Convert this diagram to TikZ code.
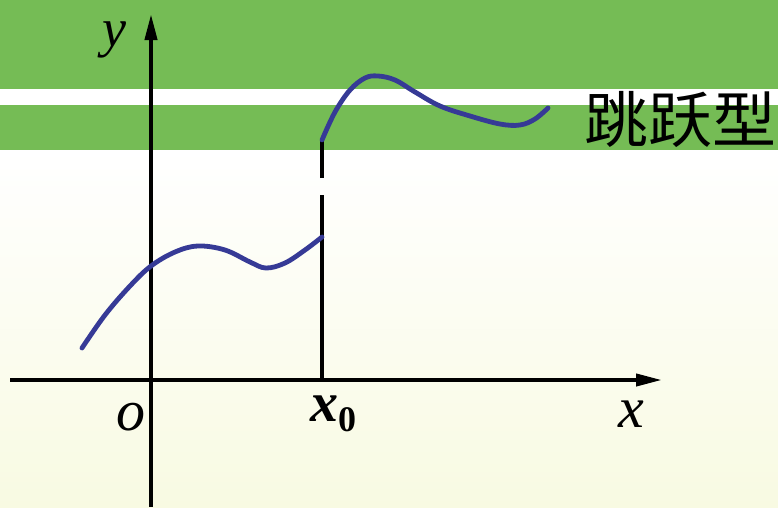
\documentclass[tikz,border=0pt]{standalone}
\usepackage{fontspec}
\setmainfont{Liberation Serif}
\newfontfamily\cjk{Noto Sans CJK SC}
\usetikzlibrary{arrows.meta}
\definecolor{bandgreen}{RGB}{117,188,85}
\definecolor{curveblue}{RGB}{54,58,150}
\definecolor{paleyellow}{RGB}{248,250,226}
\begin{document}
\begin{tikzpicture}[x=1pt,y=-1pt,
  axis/.style={line width=4pt,-{Triangle[length=26pt,width=12pt]}},
  jumpline/.style={line width=4pt},
  curve/.style={line width=4.8pt,curveblue,line cap=round},
  lbl/.style={inner sep=0pt,font=\fontsize{58}{60}\selectfont\itshape}]
\useasboundingbox (0,0) rectangle (778,507);
% background
\fill[white] (0,0) rectangle (778,507);
\shade[top color=white,bottom color=paleyellow] (0,150) rectangle (778,507);
\fill[bandgreen] (0,0) rectangle (778,89);
\fill[bandgreen] (0,105) rectangle (778,150);
% axes
\coordinate (xs) at (10,380);
\coordinate (xe) at (662,380);
\coordinate (ys) at (151,507);
\coordinate (ye) at (151,14);
\draw[axis] (xs) -- (xe);
\draw[axis] (ys) -- (ye);
% jump line
\coordinate (j0) at (322,380);
\coordinate (j1) at (322,195);
\coordinate (j2) at (322,178);
\coordinate (j3) at (322,141);
\draw[jumpline] (j0) -- (j1);
\draw[jumpline] (j2) -- (j3);
% curves
\draw[curve] plot[smooth,tension=0.6] coordinates {(82,348) (105,315) (130,286) (151,266) (175,252) (198,246) (225,250) (250,262) (266,268) (285,263) (305,250) (322,237)};
\draw[curve] plot[smooth,tension=0.6] coordinates {(322,140) (335,112) (350,90) (365,78) (378,76) (395,80) (415,92) (440,106) (470,116) (500,124) (520,125) (535,119) (548,108)};
% labels
\node[lbl,font=\fontsize{54}{56}\selectfont\itshape] (ylab) at (114,40) {y};
\node[lbl] (xlab) at (631,414) {x};
\node[lbl] (olab) at (131,417) {o};
\node[inner sep=0pt,anchor=base west] (x0lab) at (310,421) {\fontsize{56}{58}\selectfont\bfseries\itshape x\raisebox{-10pt}{\fontsize{36}{38}\selectfont\upshape 0}};
\node[inner sep=0pt,anchor=east,yscale=0.95] (title) at (777,119) {\cjk\fontsize{64}{65}\selectfont 跳跃型};
\end{tikzpicture}
\end{document}
